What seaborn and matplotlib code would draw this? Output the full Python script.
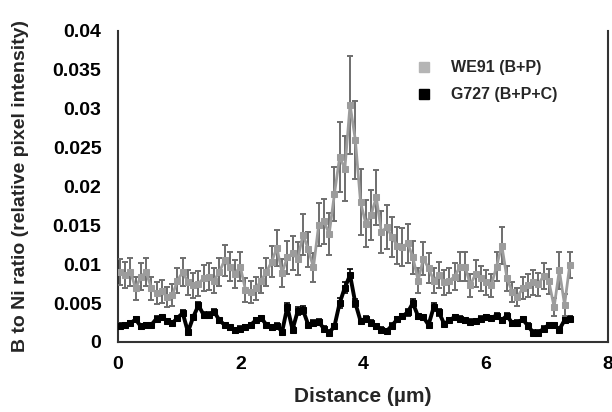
import numpy as np
import pandas as pd
import matplotlib
matplotlib.use("Agg")
import matplotlib.pyplot as plt
from matplotlib.lines import Line2D
import seaborn as sns

# ---- data ----
n_points = 87
distance = np.round(np.linspace(0.03, 7.38, n_points), 3)

we91 = [0.0090, 0.0086, 0.0090, 0.0069, 0.0084, 0.0090, 0.0069, 0.0063, 0.0065, 0.0058,
        0.0060, 0.0079, 0.0090, 0.0077, 0.0073, 0.0075, 0.0082, 0.0084, 0.0079, 0.0090,
        0.0105, 0.0097, 0.0088, 0.0097, 0.0067, 0.0064, 0.0069, 0.0079, 0.0090, 0.0103,
        0.0121, 0.0089, 0.0109, 0.0114, 0.0107, 0.0138, 0.0119, 0.0096, 0.0151, 0.0155,
        0.0139, 0.0190, 0.0238, 0.0223, 0.0305, 0.0260, 0.0180, 0.0152, 0.0163, 0.0186,
        0.0141, 0.0148, 0.0135, 0.0124, 0.0122, 0.0127, 0.0109, 0.0079, 0.0107, 0.0095,
        0.0079, 0.0086, 0.0077, 0.0079, 0.0084, 0.0097, 0.0097, 0.0073, 0.0088, 0.0082,
        0.0077, 0.0073, 0.0097, 0.0124, 0.0082, 0.0064, 0.0058, 0.0069, 0.0073, 0.0077,
        0.0074, 0.0085, 0.0078, 0.0045, 0.0092, 0.0048, 0.0099]

we91_err = [0.0017, 0.0017, 0.0018, 0.0015, 0.0017, 0.0018, 0.0015, 0.0014, 0.0015, 0.0013,
            0.0014, 0.0016, 0.0018, 0.0016, 0.0016, 0.0016, 0.0017, 0.0017, 0.0016, 0.0018,
            0.0020, 0.0019, 0.0018, 0.0019, 0.0015, 0.0014, 0.0015, 0.0016, 0.0018, 0.0020,
            0.0023, 0.0018, 0.0021, 0.0022, 0.0021, 0.0026, 0.0023, 0.0019, 0.0028, 0.0029,
            0.0027, 0.0035, 0.0045, 0.0042, 0.0063, 0.0050, 0.0042, 0.0030, 0.0032, 0.0035,
            0.0027, 0.0028, 0.0026, 0.0024, 0.0024, 0.0025, 0.0021, 0.0016, 0.0021, 0.0019,
            0.0016, 0.0017, 0.0016, 0.0016, 0.0017, 0.0019, 0.0019, 0.0015, 0.0017, 0.0016,
            0.0016, 0.0015, 0.0019, 0.0024, 0.0016, 0.0013, 0.0012, 0.0014, 0.0015, 0.0016,
            0.0015, 0.0017, 0.0016, 0.0012, 0.0024, 0.0014, 0.0017]

g727 = [0.0021, 0.0022, 0.0024, 0.0029, 0.0020, 0.0022, 0.0022, 0.0030, 0.0032, 0.0027,
        0.0024, 0.0031, 0.0037, 0.0013, 0.0032, 0.0047, 0.0035, 0.0035, 0.0039, 0.0028,
        0.0022, 0.0019, 0.0015, 0.0017, 0.0019, 0.0022, 0.0028, 0.0031, 0.0022, 0.0019,
        0.0021, 0.0013, 0.0045, 0.0016, 0.0040, 0.0041, 0.0022, 0.0025, 0.0026, 0.0017,
        0.0012, 0.0020, 0.0050, 0.0070, 0.0086, 0.0050, 0.0027, 0.0030, 0.0025, 0.0020,
        0.0016, 0.0014, 0.0021, 0.0029, 0.0033, 0.0038, 0.0050, 0.0033, 0.0032, 0.0022,
        0.0045, 0.0038, 0.0023, 0.0028, 0.0032, 0.0030, 0.0028, 0.0026, 0.0027, 0.0030,
        0.0032, 0.0031, 0.0034, 0.0028, 0.0034, 0.0024, 0.0025, 0.0029, 0.0021, 0.0012,
        0.0012, 0.0017, 0.0022, 0.0022, 0.0016, 0.0028, 0.0030]

g727_err = [0.0003, 0.0003, 0.0003, 0.0003, 0.0003, 0.0003, 0.0003, 0.0003, 0.0003, 0.0003,
            0.0003, 0.0003, 0.0004, 0.0003, 0.0003, 0.0005, 0.0003, 0.0003, 0.0004, 0.0003,
            0.0003, 0.0003, 0.0003, 0.0003, 0.0003, 0.0003, 0.0003, 0.0003, 0.0003, 0.0003,
            0.0003, 0.0003, 0.0005, 0.0003, 0.0005, 0.0005, 0.0003, 0.0003, 0.0003, 0.0003,
            0.0003, 0.0003, 0.0006, 0.0007, 0.0008, 0.0005, 0.0003, 0.0003, 0.0003, 0.0003,
            0.0003, 0.0003, 0.0003, 0.0003, 0.0003, 0.0004, 0.0005, 0.0003, 0.0003, 0.0003,
            0.0005, 0.0004, 0.0003, 0.0003, 0.0003, 0.0003, 0.0003, 0.0003, 0.0003, 0.0003,
            0.0003, 0.0003, 0.0003, 0.0003, 0.0003, 0.0003, 0.0003, 0.0003, 0.0003, 0.0003,
            0.0003, 0.0003, 0.0003, 0.0003, 0.0003, 0.0003, 0.0003]

series_names = ["WE91 (B+P)", "G727 (B+P+C)"]
x_ticks = [0, 2, 4, 6, 8]
y_ticks = [0, 0.005, 0.01, 0.015, 0.02, 0.025, 0.03, 0.035, 0.04]
y_tick_labels = ["0", "0.005", "0.01", "0.015", "0.02", "0.025", "0.03", "0.035", "0.04"]

# ---- figure ----
sns.set_style("white")
plt.rcParams["font.family"] = ["Liberation Sans", "DejaVu Sans"]
plt.rcParams["font.weight"] = "bold"

fig = plt.figure(figsize=(6.12, 4.12), dpi=100)
ax = fig.add_axes([0.193, 0.170, 0.800, 0.755])

gray_line = "#9c9c9c"
gray_err = "#6e6e6e"

df = pd.DataFrame({
    "Distance": np.concatenate([distance, distance]),
    "Ratio": np.concatenate([we91, g727]),
    "Series": [series_names[0]] * n_points + [series_names[1]] * n_points,
})

# error bars
ax.errorbar(distance, g727, yerr=g727_err, fmt="none", ecolor="black",
            elinewidth=1.2, capsize=2.2, capthick=1.2, zorder=2)
ax.errorbar(distance, we91, yerr=we91_err, fmt="none", ecolor=gray_err,
            elinewidth=1.4, capsize=2.4, capthick=1.4, zorder=3)

sns.lineplot(data=df[df["Series"] == series_names[1]], x="Distance", y="Ratio",
             color="black", linewidth=2.8, marker="s", markersize=5,
             markeredgecolor="black", ax=ax, zorder=4, legend=False)
sns.lineplot(data=df[df["Series"] == series_names[0]], x="Distance", y="Ratio",
             color=gray_line, linewidth=2.0, marker="s", markersize=5,
             markeredgecolor=gray_line, ax=ax, zorder=5, legend=False)

ax.set_xlim(0, 8)
ax.set_ylim(0, 0.04)
ax.set_xticks(x_ticks)
ax.set_xticklabels([str(t) for t in x_ticks])
ax.set_yticks(y_ticks)
ax.set_yticklabels(y_tick_labels)
ax.tick_params(axis="both", direction="out", length=5, width=1.2, labelsize=14,
               colors="black", pad=5)
ax.tick_params(axis="y", pad=7)
for lab in ax.get_xticklabels() + ax.get_yticklabels():
    lab.set_fontweight("bold")

for side in ["left", "bottom", "right"]:
    ax.spines[side].set_visible(True)
    ax.spines[side].set_color("#333333")
    ax.spines[side].set_linewidth(1.5)
ax.spines["top"].set_visible(False)

ax.set_xlabel("Distance (µm)", fontsize=15, fontweight="bold", labelpad=10)
ax.set_ylabel("B to Ni ratio (relative pixel intensity)", fontsize=14,
              fontweight="bold", labelpad=17)

handles = [
    Line2D([], [], linestyle="none", marker="s", markersize=7.5,
           markerfacecolor="#b5b5b5", markeredgecolor="#b5b5b5"),
    Line2D([], [], linestyle="none", marker="s", markersize=7.5,
           markerfacecolor="black", markeredgecolor="black"),
]
leg = ax.legend(handles, series_names, loc="upper left", bbox_to_anchor=(0.562, 0.952),
                frameon=False, prop={"size": 11.5, "weight": "bold"},
                handletextpad=0.7, labelspacing=0.75)

fig.savefig("out.png", dpi=100)
